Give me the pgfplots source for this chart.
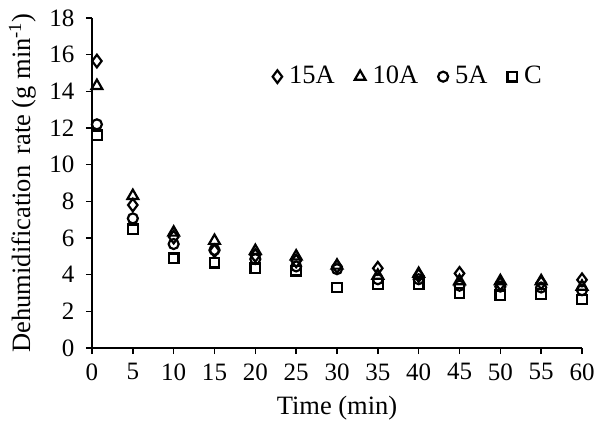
\documentclass[border=0pt]{standalone}
\usepackage{fontspec}
\setmainfont{Liberation Serif}
\usepackage{pgfplots}
\pgfplotsset{compat=1.18}
\begin{document}
\fontsize{25}{29}\selectfont
\begin{tikzpicture}[x=1pt,y=1pt]
\path[use as bounding box] (-92,-86) rectangle (510,348);
\begin{axis}[
  scale only axis, width=490pt, height=330pt,
  at={(0,0)}, anchor=south west,
  xmin=0, xmax=60, ymin=0, ymax=18,
  xtick={0,5,...,60}, ytick={0,2,...,18},
  axis x line*=bottom, axis y line*=left,
  axis line style={line width=1.6pt, -},
  tick align=outside, major tick length=6pt,
  tick style={line width=1.6pt, black},
  /pgf/number format/assume math mode=true,
  ticklabel style={font=\fontsize{25}{29}\selectfont},
  xticklabel style={yshift=-1pt},
  yticklabel style={xshift=-3pt},
  label style={font=\fontsize{26.5}{30}\selectfont},
  xlabel={Time (min)},
  ylabel={Dehumidification\, rate (g min\textsuperscript{-1})},
  xlabel style={at={(axis description cs:0.5,-0.182)}, anchor=center},
  ylabel style={at={(axis description cs:-0.142,0.5)}, anchor=center},
  legend style={at={(axis cs:22.1,14.8)}, anchor=west, draw=none, fill=none,
    font=\fontsize{26.5}{30}\selectfont, inner sep=0pt,
    /tikz/every odd column/.append style={column sep=5pt},
    /tikz/every even column/.append style={column sep=18pt}},
  legend columns=4,
  legend cell align=left,
  legend image code/.code={\draw[only marks] plot coordinates {(0.2cm,0cm)};},
  mk/.style={only marks, black, mark options={solid, fill=none, line width=2.2pt}},
]
% 15A
\addplot[mk, mark=diamond, mark size=6.3pt] coordinates {
 (0.6,15.65) (5,7.8) (10,6.05) (15,5.3) (20,5.05) (25,4.75) (30,4.45)
 (35,4.35) (40,3.95) (45,4.07) (50,3.5) (55,3.55) (60,3.72)};
\addlegendentry{15A}
% 10A
\addplot[mk, mark=triangle, mark size=6.2pt] coordinates {
 (0.6,14.3) (5,8.3) (10,6.3) (15,5.85) (20,5.3) (25,5.0) (30,4.5)
 (35,3.95) (40,4.05) (45,3.65) (50,3.65) (55,3.65) (60,3.35)};
\addlegendentry{10A}
% 5A
\addplot[mk, mark=o, mark size=5pt] coordinates {
 (0.6,12.2) (5,7.07) (10,5.67) (15,5.35) (20,4.85) (25,4.45) (30,4.3)
 (35,3.75) (40,3.75) (45,3.4) (50,3.35) (55,3.3) (60,3.15)};
\addlegendentry{5A}
% C
\addplot[mk, mark=square, mark size=4.8pt] coordinates {
 (0.6,11.6) (5,6.48) (10,4.89) (15,4.65) (20,4.35) (25,4.22) (30,3.3)
 (35,3.5) (40,3.5) (45,3.0) (50,2.88) (55,2.95) (60,2.65)};
\addlegendentry{C}
\end{axis}
\end{tikzpicture}
\end{document}
